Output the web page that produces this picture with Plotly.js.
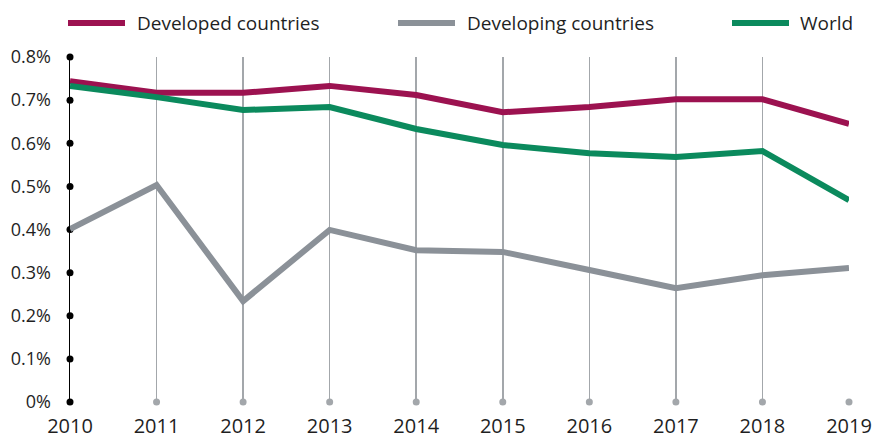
<!DOCTYPE html>
<html>
<head>
<meta charset="utf-8">
<script src="https://cdn.plot.ly/plotly-3.0.1.min.js"></script>
<style>
  html, body { margin: 0; padding: 0; background: #fff; }
  #chart { width: 874px; height: 438px; }
</style>
</head>
<body>
<div id="chart"></div>
<script>
const years = [2010, 2011, 2012, 2013, 2014, 2015, 2016, 2017, 2018, 2019];

// shares in percent
const developed = [0.744, 0.717, 0.717, 0.733, 0.712, 0.672, 0.684, 0.702, 0.702, 0.645];
const developing = [0.401, 0.503, 0.234, 0.399, 0.352, 0.348, 0.306, 0.264, 0.294, 0.311];
const world = [0.733, 0.707, 0.677, 0.684, 0.633, 0.596, 0.577, 0.568, 0.582, 0.468];

const seriesNames = ["Developed countries", "Developing countries", "World"];
const seriesColors = ["#9c1250", "#8b9198", "#0b8a5d"];
const yTicks = [0, 0.1, 0.2, 0.3, 0.4, 0.5, 0.6, 0.7, 0.8];
const yTickText = ["0%", "0.1%", "0.2%", "0.3%", "0.4%", "0.5%", "0.6%", "0.7%", "0.8%"];

const gridColor = "#a3a7ab";
const textColor = "#1f1f1f";

// legend drawn by hand: line start / end and text start, in pixels
const legendPx = [[68, 125, 135], [398, 455, 465], [732, 789, 798]];
const plotLeft = 70, plotWidth = 779, plotTop = 57, plotHeight = 345;
const legendY = 23;

const toPaperX = (px) => (px - plotLeft) / plotWidth;
const toPaperY = (py) => (plotTop + plotHeight - py) / plotHeight;

const seriesValues = [developed, developing, world];

const traces = [
  // black dots along the y axis
  {
    x: yTicks.map(() => years[0]),
    y: yTicks,
    type: "scatter",
    mode: "markers",
    marker: { color: "#000", size: 7 },
    cliponaxis: false,
    hoverinfo: "skip",
    showlegend: false,
  },
  // grey dots at the foot of each grid line
  {
    x: years.slice(1),
    y: years.slice(1).map(() => 0),
    type: "scatter",
    mode: "markers",
    marker: { color: gridColor, size: 7 },
    cliponaxis: false,
    hoverinfo: "skip",
    showlegend: false,
  },
];

seriesValues.forEach((vals, i) => {
  traces.push({
    x: years,
    y: vals,
    name: seriesNames[i],
    type: "scatter",
    mode: "lines",
    line: { color: seriesColors[i], width: 6 },
    cliponaxis: false,
    showlegend: false,
  });
});

const shapes = legendPx.map((p, i) => ({
  type: "line",
  xref: "paper",
  yref: "paper",
  x0: toPaperX(p[0]),
  x1: toPaperX(p[1]),
  y0: toPaperY(legendY),
  y1: toPaperY(legendY),
  line: { color: seriesColors[i], width: 6 },
}));

const annotations = legendPx.map((p, i) => ({
  text: seriesNames[i],
  xref: "paper",
  yref: "paper",
  x: toPaperX(p[2]),
  y: toPaperY(legendY),
  xanchor: "left",
  yanchor: "middle",
  showarrow: false,
  font: { family: "Open Sans", size: 19, color: textColor },
}));

const layout = {
  width: 874,
  height: 438,
  margin: { l: plotLeft, r: 874 - plotLeft - plotWidth, t: plotTop, b: 438 - plotTop - plotHeight, pad: 0 },
  paper_bgcolor: "#fff",
  plot_bgcolor: "#fff",
  font: { family: "Open Sans", color: textColor },
  showlegend: false,
  xaxis: {
    range: [years[0], years[years.length - 1]],
    tickvals: years,
    ticktext: years.map(String),
    showgrid: true,
    gridcolor: gridColor,
    gridwidth: 1.5,
    zeroline: false,
    showline: false,
    ticks: "",
    ticklabelstandoff: 10,
    tickfont: { size: 20, color: textColor },
    automargin: false,
    fixedrange: true,
  },
  yaxis: {
    range: [0, 0.8],
    tickvals: yTicks,
    ticktext: yTickText,
    showgrid: false,
    zeroline: false,
    showline: true,
    linecolor: "#000",
    linewidth: 1.5,
    ticks: "",
    ticklabelstandoff: 14,
    tickfont: { size: 18, color: textColor },
    automargin: false,
    fixedrange: true,
  },
  shapes: shapes,
  annotations: annotations,
};

Plotly.newPlot("chart", traces, layout, { displayModeBar: false, staticPlot: true });
</script>
</body>
</html>
